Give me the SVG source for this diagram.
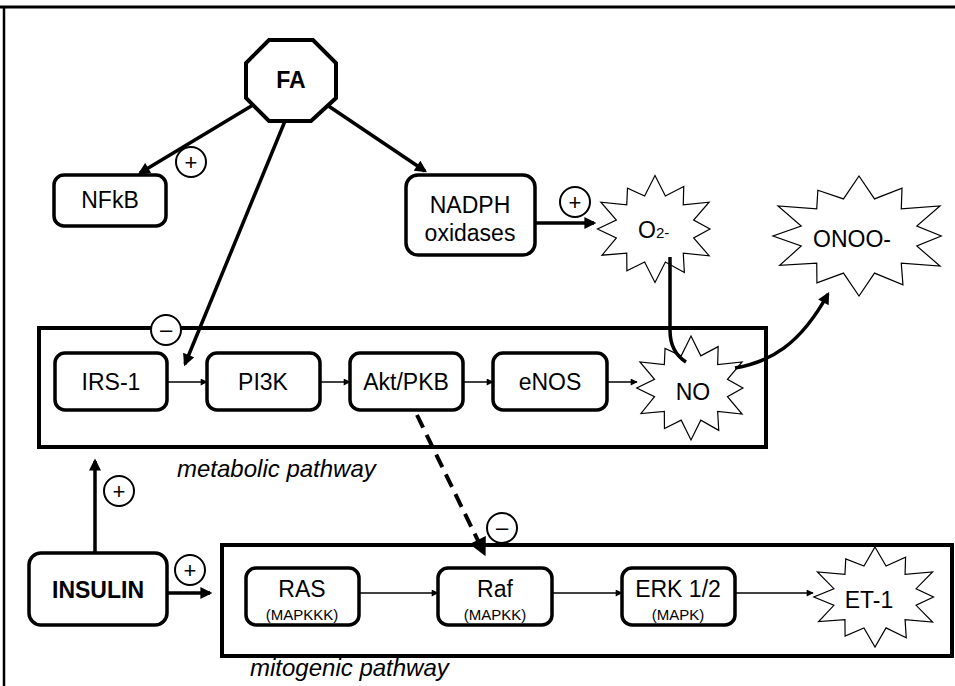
<svg xmlns="http://www.w3.org/2000/svg" xmlns:xlink="http://www.w3.org/1999/xlink" width="955" height="686" viewBox="0 0 955 686">
<style>
.box{fill:#fff;stroke:#000;stroke-width:3.5}
.path{fill:none;stroke:#000;stroke-width:4}
.t{font-family:"Liberation Sans",Arial,sans-serif;font-size:23px;text-anchor:middle;fill:#000}
.s{font-family:"Liberation Sans",Arial,sans-serif;font-size:15px;text-anchor:middle;fill:#000}
.b{font-weight:bold}
.lab{font-family:"Liberation Sans",Arial,sans-serif;font-size:24px;font-style:italic;fill:#000}
.burst{fill:#fff;stroke:#000;stroke-width:1.2;vector-effect:non-scaling-stroke}
.thick{fill:none;stroke:#000;stroke-width:3.5}
.thin{fill:none;stroke:#000;stroke-width:1.5}
.sign circle{fill:#fff;stroke:#000;stroke-width:2}
.sign text{font-family:"Liberation Sans",Arial,sans-serif;font-size:22px;text-anchor:middle;fill:#000}
</style>
<defs>
<marker id="ah" viewBox="0 0 10 10" refX="8" refY="5" markerWidth="13" markerHeight="12" markerUnits="userSpaceOnUse" orient="auto"><path d="M0,0 L10,5 L0,10 z"/></marker>
<marker id="ahs" viewBox="0 0 10 10" refX="9" refY="5" markerWidth="9" markerHeight="7" markerUnits="userSpaceOnUse" orient="auto"><path d="M0,0 L10,5 L0,10 z"/></marker>
<marker id="ahb" viewBox="0 0 10 10" refX="8" refY="5" markerWidth="20" markerHeight="18" markerUnits="userSpaceOnUse" orient="auto"><path d="M0,0 L10,5 L0,10 z"/></marker>
<polygon id="burst" class="burst" points="0,-50 8.3,-30.9 23,-39.8 22.6,-22.6 43.3,-25 30.9,-8.3 44,0 30.9,8.3 43.3,25 22.6,22.6 23.5,40.7 8.3,30.9 0,50 -8.3,30.9 -22.5,39 -22.6,22.6 -42.4,24.5 -30.9,8.3 -46,0 -30.9,-8.3 -43.3,-25 -22.6,-22.6 -22,-38.1 -8.3,-30.9"/>
</defs>
<rect width="955" height="686" fill="#fff"/>
<g id="frame">
<line x1="0" y1="7" x2="955" y2="7" stroke="#000" stroke-width="3"/>
<line x1="4" y1="6" x2="4" y2="686" stroke="#000" stroke-width="2.5"/>
</g>
<g id="metabolic-pathway">
<rect class="path" x="39" y="328" width="727" height="119"/>
<text class="lab" x="177" y="477">metabolic pathway</text>
</g>
<g id="mitogenic-pathway">
<rect class="path" x="222" y="545" width="730" height="111"/>
<text class="lab" x="250" y="676">mitogenic pathway</text>
</g>
<g id="FA">
<polygon points="269,40 313,40 336,63 336,98 311,121 269,121 246,98 246,63" fill="#fff" stroke="#000" stroke-width="4"/>
<text class="t b" x="291" y="88">FA</text>
</g>
<g id="NFkB">
<rect class="box" x="54" y="175" width="112" height="51" rx="10"/>
<text class="t" x="110" y="208">NFkB</text>
</g>
<g id="NADPH">
<rect class="box" x="406" y="175" width="129" height="80" rx="12"/>
<text class="t" x="470" y="213">NADPH</text>
<text class="t" x="470" y="241">oxidases</text>
</g>
<g id="O2">
<use xlink:href="#burst" transform="translate(655,229) scale(1.25,1.07)"/>
<text class="t" x="638" y="238" style="text-anchor:start">O<tspan font-size="15">2-</tspan></text>
</g>
<g id="ONOO">
<use xlink:href="#burst" transform="translate(859,236) scale(1.87,1.2)"/>
<text class="t" x="852" y="247">ONOO-</text>
</g>
<g id="IRS-1">
<rect class="box" x="55" y="353" width="112" height="57" rx="10"/>
<text class="t" x="111" y="390">IRS-1</text>
</g>
<g id="PI3K">
<rect class="box" x="207" y="353" width="113" height="57" rx="10"/>
<text class="t" x="263" y="390">PI3K</text>
</g>
<g id="AktPKB">
<rect class="box" x="350" y="353" width="113" height="57" rx="10"/>
<text class="t" x="406" y="390">Akt/PKB</text>
</g>
<g id="eNOS">
<rect class="box" x="493" y="353" width="114" height="57" rx="10"/>
<text class="t" x="550" y="390">eNOS</text>
</g>
<g id="NO">
<use xlink:href="#burst" transform="translate(691,388) scale(1.18,1.04)"/>
<text class="t" x="693" y="400">NO</text>
</g>
<g id="INSULIN">
<rect class="box" x="29" y="553" width="138" height="72" rx="12"/>
<text class="t b" x="98" y="598">INSULIN</text>
</g>
<g id="RAS">
<rect class="box" x="246" y="568" width="113" height="57" rx="10"/>
<text class="t" x="302" y="597">RAS</text>
<text class="s" x="302" y="620">(MAPKKK)</text>
</g>
<g id="Raf">
<rect class="box" x="438" y="568" width="114" height="57" rx="10"/>
<text class="t" x="495" y="597">Raf</text>
<text class="s" x="495" y="620">(MAPKK)</text>
</g>
<g id="ERK">
<rect class="box" x="622" y="568" width="113" height="57" rx="10"/>
<text class="t" x="678" y="597">ERK 1/2</text>
<text class="s" x="678" y="620">(MAPK)</text>
</g>
<g id="ET-1">
<use xlink:href="#burst" transform="translate(875,597) scale(1.33,1.0)"/>
<text class="t" x="869" y="608">ET-1</text>
</g>
<g id="connectors">
<line class="thick" x1="253" y1="105" x2="140" y2="173" marker-end="url(#ah)"/>
<line class="thick" x1="327" y1="105" x2="425" y2="171" marker-end="url(#ah)"/>
<line class="thick" x1="285" y1="121" x2="185" y2="364" marker-end="url(#ah)"/>
<line class="thick" x1="535" y1="223" x2="594" y2="223" marker-end="url(#ah)"/>
<path class="thick" d="M670,257 L670,330 Q670,352 686,362"/>
<path class="thick" d="M735,368 C770,362 800,345 828,294" marker-end="url(#ah)"/>
<line class="thin" x1="167" y1="382" x2="207" y2="382" marker-end="url(#ahs)"/>
<line class="thin" x1="320" y1="382" x2="350" y2="382" marker-end="url(#ahs)"/>
<line class="thin" x1="463" y1="382" x2="493" y2="382" marker-end="url(#ahs)"/>
<line class="thin" x1="607" y1="382" x2="637" y2="382" marker-end="url(#ahs)"/>
<line class="thick" x1="95" y1="553" x2="95" y2="461" marker-end="url(#ah)"/>
<line class="thick" x1="167" y1="593" x2="210" y2="593" marker-end="url(#ah)"/>
<line class="thin" x1="359" y1="593" x2="438" y2="593" marker-end="url(#ahs)"/>
<line class="thin" x1="552" y1="593" x2="622" y2="593" marker-end="url(#ahs)"/>
<line class="thin" x1="735" y1="593" x2="813" y2="593" marker-end="url(#ahs)"/>
<line x1="417" y1="415" x2="484" y2="553" stroke="#000" stroke-width="4" stroke-dasharray="14 8" marker-end="url(#ahb)"/>
</g>
<g id="signs">
<g class="sign"><circle cx="191" cy="162" r="15"/><text x="191" y="170">+</text></g>
<g class="sign"><circle cx="575" cy="202" r="15"/><text x="575" y="210">+</text></g>
<g class="sign"><circle cx="166" cy="330" r="15"/><text x="166" y="337">–</text></g>
<g class="sign"><circle cx="119" cy="491" r="15"/><text x="119" y="499">+</text></g>
<g class="sign"><circle cx="190" cy="570" r="15"/><text x="190" y="578">+</text></g>
<g class="sign"><circle cx="502" cy="528" r="15"/><text x="502" y="535">–</text></g>
</g>
</svg>
